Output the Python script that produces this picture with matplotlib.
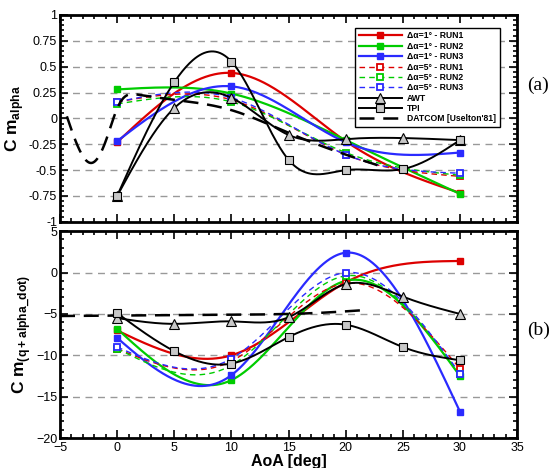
import numpy as np
import matplotlib.pyplot as plt
from matplotlib.ticker import MultipleLocator

plt.rcParams['font.family'] = ['Liberation Sans', 'DejaVu Sans']
plt.rcParams['mathtext.fontset'] = 'custom'
plt.rcParams['mathtext.rm'] = 'Liberation Sans'
plt.rcParams['mathtext.bf'] = 'Liberation Sans:bold'

# ---- data ----
aoa_run = [0, 10, 20, 30]
aoa_exp = [0, 5, 10, 15, 20, 25, 30]

# Cm_alpha
cma_run1_d1 = [-0.23, 0.44, -0.22, -0.72]
cma_run2_d1 = [0.28, 0.24, -0.21, -0.73]
cma_run3_d1 = [-0.22, 0.31, -0.23, -0.33]
cma_run1_d5 = [0.16, 0.18, -0.35, -0.56]
cma_run2_d5 = [0.14, 0.16, -0.33, -0.55]
cma_run3_d5 = [0.16, 0.20, -0.35, -0.53]
cma_awt = [-0.75, 0.10, 0.20, -0.16, -0.20, -0.19, -0.21]
cma_tpi = [-0.75, 0.35, 0.55, -0.40, -0.50, -0.49, -0.21]
datcom_aoa_a = [-4.4, -3.4, -2.2, -1.0, 0.1, 1.8, 5, 10, 15, 20, 23]
datcom_cma = [0.02, -0.28, -0.43, -0.22, 0.12, 0.23, 0.18, 0.08, -0.14, -0.35, -0.46]

# Cm_(q+alpha_dot)
cmq_run1_d1 = [-7.0, -10.0, -1.2, 1.4]
cmq_run2_d1 = [-6.8, -13.0, -1.0, -12.5]
cmq_run3_d1 = [-7.9, -12.4, 2.4, -16.8]
cmq_run1_d5 = [-9.2, -10.7, -1.3, -11.6]
cmq_run2_d5 = [-9.2, -11.2, -0.4, -12.3]
cmq_run3_d5 = [-9.0, -10.4, 0.0, -12.2]
cmq_awt = [-5.5, -6.2, -5.9, -5.4, -1.4, -2.9, -5.0]
cmq_tpi = [-4.9, -9.5, -11.0, -7.8, -6.3, -9.0, -10.6]
datcom_aoa_b = [-5, 0, 5, 10, 15, 18, 21.5]
datcom_cmq = [-5.25, -5.2, -5.15, -5.1, -5.0, -4.85, -4.55]

labels = [u'\u0394\u03b1=1\u00b0 - RUN1', u'\u0394\u03b1=1\u00b0 - RUN2', u'\u0394\u03b1=1\u00b0 - RUN3',
          u'\u0394\u03b1=5\u00b0 - RUN1', u'\u0394\u03b1=5\u00b0 - RUN2', u'\u0394\u03b1=5\u00b0 - RUN3',
          'AWT', 'TPI', "DATCOM [Uselton'81]"]
colors = ['#dd0000', '#00cc00', '#2a2aff']


def spline(x, y, n=300):
    """natural cubic spline through the points"""
    x = np.asarray(x, float)
    y = np.asarray(y, float)
    k = len(x)
    h = np.diff(x)
    A = np.zeros((k, k))
    r = np.zeros(k)
    A[0, 0] = A[-1, -1] = 1
    for i in range(1, k - 1):
        A[i, i - 1] = h[i - 1]
        A[i, i] = 2 * (h[i - 1] + h[i])
        A[i, i + 1] = h[i]
        r[i] = 6 * ((y[i + 1] - y[i]) / h[i] - (y[i] - y[i - 1]) / h[i - 1])
    m = np.linalg.solve(A, r)
    xs = np.linspace(x[0], x[-1], n)
    j = np.clip(np.searchsorted(x, xs) - 1, 0, k - 2)
    t0 = x[j + 1] - xs
    t1 = xs - x[j]
    hj = h[j]
    ys = (m[j] * t0 ** 3 / (6 * hj) + m[j + 1] * t1 ** 3 / (6 * hj)
          + (y[j] / hj - m[j] * hj / 6) * t0 + (y[j + 1] / hj - m[j + 1] * hj / 6) * t1)
    return xs, ys


def draw(ax, runs_d1, runs_d5, awt, tpi, dat_x, dat_y):
    handles = []
    for c, yv in zip(colors, runs_d1):
        xs, ys = spline(aoa_run, yv)
        ax.plot(xs, ys, color=c, lw=1.6, zorder=3)
        ax.plot(aoa_run, yv, 's', color=c, ms=4, zorder=4)
        handles.append(plt.Line2D([], [], color=c, lw=1.6, marker='s', ms=4))
    for c, yv in zip(colors, runs_d5):
        xs, ys = spline(aoa_run, yv)
        ax.plot(xs, ys, color=c, lw=1.0, ls=(0, (4, 3)), zorder=3)
        ax.plot(aoa_run, yv, 's', mfc='white', mec=c, mew=1.3, ms=4.5, zorder=4)
        handles.append(plt.Line2D([], [], color=c, lw=1.0, ls=(0, (4, 3)), marker='s',
                                  mfc='white', mec=c, mew=1.3, ms=4.5))
    xs, ys = spline(aoa_exp, awt)
    ax.plot(xs, ys, color='black', lw=1.4, zorder=5)
    ax.plot(aoa_exp, awt, '^', mfc='#c8c8c8', mec='black', mew=0.8, ms=6.5, zorder=6)
    handles.append(plt.Line2D([], [], color='black', lw=1.4, marker='^', mfc='#c8c8c8',
                              mec='black', mew=0.8, ms=6.5))
    xs, ys = spline(aoa_exp, tpi)
    ax.plot(xs, ys, color='black', lw=1.4, zorder=5)
    ax.plot(aoa_exp, tpi, 's', mfc='#c8c8c8', mec='black', mew=0.8, ms=6, zorder=6)
    handles.append(plt.Line2D([], [], color='black', lw=1.4, marker='s', mfc='#c8c8c8',
                              mec='black', mew=0.8, ms=6))
    xs, ys = spline(dat_x, dat_y)
    ax.plot(xs, ys, color='black', lw=1.8, ls=(0, (6, 3.5)), zorder=4)
    handles.append(plt.Line2D([], [], color='black', lw=1.8, ls=(0, (6, 3.5))))
    return handles


def style(ax, ymin, ymax, ymaj, ymin_step):
    ax.set_xlim(-5, 35)
    ax.set_ylim(ymin, ymax)
    ax.xaxis.set_major_locator(MultipleLocator(5))
    ax.xaxis.set_minor_locator(MultipleLocator(1))
    ax.yaxis.set_major_locator(MultipleLocator(ymaj))
    ax.yaxis.set_minor_locator(MultipleLocator(ymin_step))
    ax.tick_params(which='both', direction='in', top=True, right=True, width=1.2)
    ax.tick_params(which='major', length=6, labelsize=9, pad=2)
    ax.tick_params(axis='x', which='major', pad=3)
    ax.tick_params(which='minor', length=3)
    for s in ax.spines.values():
        s.set_linewidth(2)
    for yv in np.arange(ymin + ymaj, ymax - ymaj / 2, ymaj):
        ax.axhline(yv, color='#999999', lw=1, ls=(0, (5, 4)), zorder=1)


fig = plt.figure(figsize=(5.53, 4.68), dpi=100)
ax1 = fig.add_axes([0.1085, 0.526, 0.8265, 0.442])
ax2 = fig.add_axes([0.1085, 0.064, 0.8265, 0.442])

h = draw(ax1, [cma_run1_d1, cma_run2_d1, cma_run3_d1], [cma_run1_d5, cma_run2_d5, cma_run3_d5],
         cma_awt, cma_tpi, datcom_aoa_a, datcom_cma)
style(ax1, -1, 1, 0.25, 0.05)
ax1.set_yticks([-1, -0.75, -0.5, -0.25, 0, 0.25, 0.5, 0.75, 1])
ax1.set_yticklabels(['-1', '-0.75', '-0.5', '-0.25', '0', '0.25', '0.5', '0.75', '1'])
ax1.tick_params(labelbottom=False)
ax1.set_ylabel(r'C m$_{\mathbf{alpha}}$', fontsize=12.5, fontweight='bold', labelpad=2)
leg = ax1.legend(h, labels, loc='upper right', bbox_to_anchor=(0.972, 0.96),
                 handlelength=5.0, labelspacing=0.16, borderpad=0.45, handletextpad=0.6,
                 fancybox=False, edgecolor='black', framealpha=1,
                 prop={'weight': 'bold', 'size': 6.2})
leg.get_frame().set_linewidth(1)
leg.set_zorder(10)

draw(ax2, [cmq_run1_d1, cmq_run2_d1, cmq_run3_d1], [cmq_run1_d5, cmq_run2_d5, cmq_run3_d5],
     cmq_awt, cmq_tpi, datcom_aoa_b, datcom_cmq)
style(ax2, -20, 5, 5, 1)
ax2.set_ylabel(r'C m$_{\mathbf{(q+alpha\_dot)}}$', fontsize=12.5, fontweight='bold', labelpad=2)
ax2.set_xlabel('AoA [deg]', fontsize=11.5, fontweight='bold', labelpad=0)

fig.text(0.973, 0.818, '(a)', family='Liberation Serif', fontsize=14, ha='center', va='center')
fig.text(0.973, 0.295, '(b)', family='Liberation Serif', fontsize=14, ha='center', va='center')

fig.savefig('out.png', dpi=100)
